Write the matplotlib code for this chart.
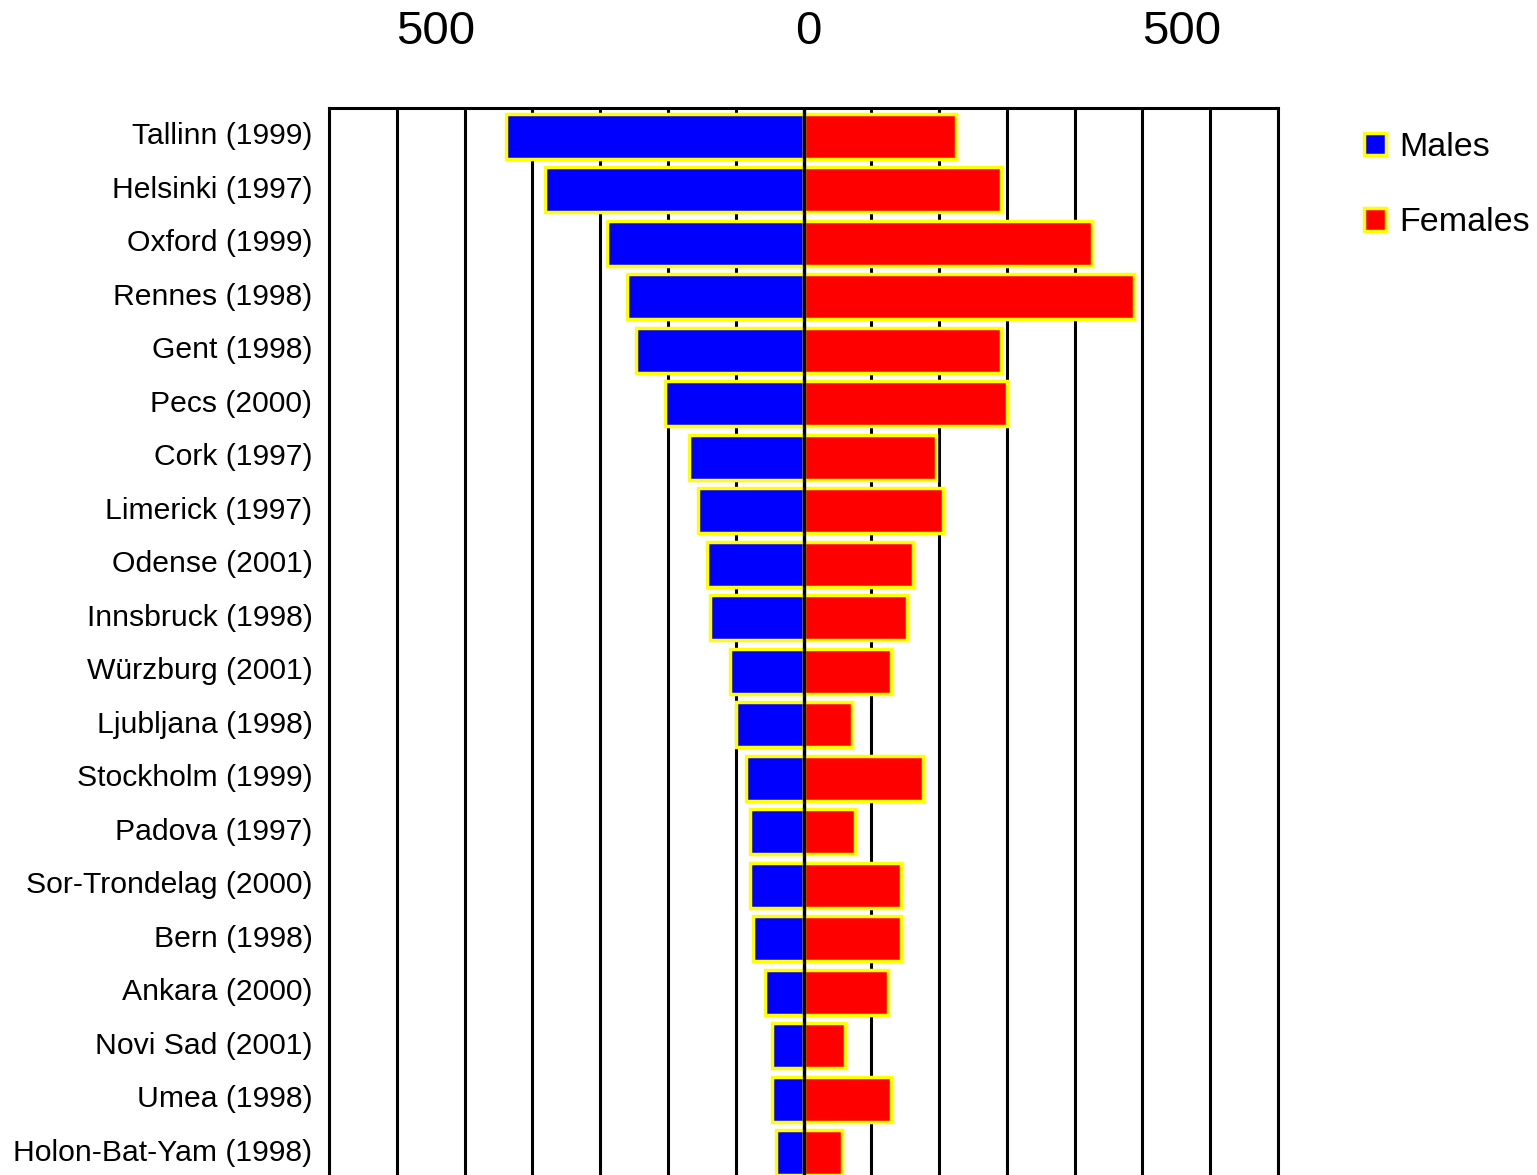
import matplotlib

matplotlib.use("Agg")

import matplotlib.pyplot as plt
import matplotlib.transforms as mtransforms
import numpy as np
from matplotlib.ticker import FuncFormatter

cities = [
    "Tallinn (1999)",
    "Helsinki (1997)",
    "Oxford (1999)",
    "Rennes (1998)",
    "Gent (1998)",
    "Pecs (2000)",
    "Cork (1997)",
    "Limerick (1997)",
    "Odense (2001)",
    "Innsbruck (1998)",
    "Würzburg (2001)",
    "Ljubljana (1998)",
    "Stockholm (1999)",
    "Padova (1997)",
    "Sor-Trondelag (2000)",
    "Bern (1998)",
    "Ankara (2000)",
    "Novi Sad (2001)",
    "Umea (1998)",
    "Holon-Bat-Yam (1998)",
]

males = [398, 346, 263, 237, 224, 185, 154, 142, 129, 125,
         98, 90, 77, 72, 72, 68, 51, 42, 42, 37.5]
females = [204, 264, 386, 442, 264, 273, 178, 187, 147, 139,
           117, 65, 160, 69, 130, 130, 112.5, 56, 117, 51]

top_ticks = [-500, 0, 500]

XMAX = 635.5
N_GRID = 15


def main():
    plt.rcParams["font.family"] = ["Liberation Sans", "DejaVu Sans"]

    fig = plt.figure(figsize=(15.37, 11.75), dpi=100)
    ax = fig.add_axes([0.2141, -0.0026, 0.6174, 0.9106])

    y = np.arange(len(cities))
    bar_style = dict(height=0.84, edgecolor="#ffff00", linewidth=2.5, zorder=2)

    ax.barh(y, [-m for m in males], color="#0000ff", label="Males", **bar_style)
    ax.barh(y, females, color="#ff0000", label="Females", **bar_style)
    ax.axvline(0, color="black", linewidth=2.4, zorder=3)

    ax.set_xlim(-XMAX, XMAX)
    ax.set_ylim(len(cities) - 0.53, -0.53)

    # vertical grid every seventh of each half
    ax.set_xticks(np.linspace(-XMAX, XMAX, N_GRID), minor=True)
    ax.grid(which="minor", axis="x", color="black", linewidth=2.2)
    ax.set_axisbelow(True)

    ax.xaxis.tick_top()
    ax.set_xticks(top_ticks)
    ax.xaxis.set_major_formatter(FuncFormatter(lambda v, _: f"{abs(v):g}"))
    ax.tick_params(axis="x", which="both", length=0, pad=39, labelsize=34)
    shift_x = mtransforms.ScaledTranslation(5 / 100, 0, fig.dpi_scale_trans)
    for label in ax.get_xticklabels():
        label.set_transform(label.get_transform() + shift_x)

    ax.set_yticks(y)
    ax.set_yticklabels(cities)
    ax.tick_params(axis="y", length=0, pad=12, labelsize=21.7)
    shift_y = mtransforms.ScaledTranslation(0, 3 / 100, fig.dpi_scale_trans)
    for label in ax.get_yticklabels():
        label.set_transform(label.get_transform() + shift_y)

    for side in ["top", "left", "right"]:
        ax.spines[side].set_linewidth(2.2)
        ax.spines[side].set_color("black")
    ax.spines["bottom"].set_visible(False)

    fig.legend(
        loc="center left",
        bbox_to_anchor=(0.8874, 0.8425),
        frameon=False,
        fontsize=24.5,
        handlelength=0.65,
        handleheight=0.65,
        handletextpad=0.4,
        labelspacing=1.3,
        borderpad=0,
        borderaxespad=0,
    )

    fig.savefig("out.png", dpi=100)
    plt.close(fig)


if __name__ == "__main__":
    main()
